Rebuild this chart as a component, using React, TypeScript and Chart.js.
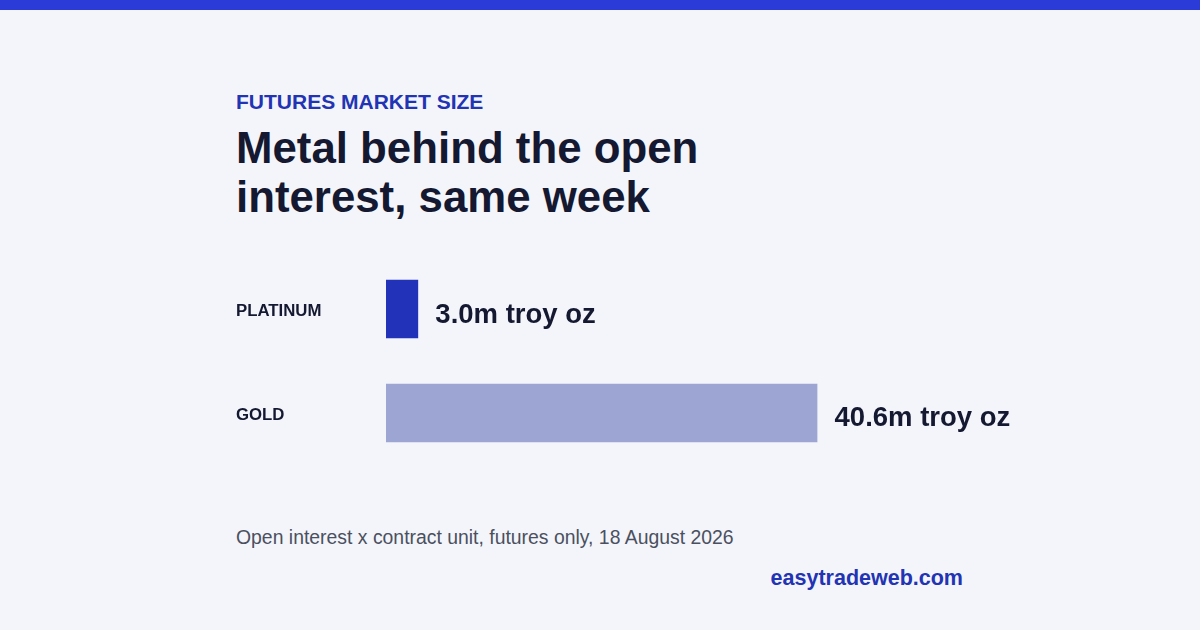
import React, { useRef, useEffect } from "react";
import { Chart, registerables } from "chart.js";

Chart.register(...registerables);

const metals = ["PLATINUM", "GOLD"];
const ounces = [3.0, 40.6]; // million troy oz
const unit = "m troy oz";
const barColors = ["#2233b9", "#9da6d3"];

const FONT = "'Liberation Sans', Arial, Helvetica, sans-serif";
const INK = "#141830";

// draws "3.0m troy oz" style labels just past the end of each bar
const valueLabels = {
  id: "valueLabels",
  afterDatasetsDraw(chart: any) {
    const ctx = chart.ctx;
    const meta = chart.getDatasetMeta(0);
    ctx.save();
    ctx.font = `bold 27.5px ${FONT}`;
    ctx.fillStyle = INK;
    ctx.textAlign = "left";
    ctx.textBaseline = "alphabetic";
    meta.data.forEach((bar: any, i: number) => {
      ctx.fillText(ounces[i].toFixed(1) + unit, bar.x + 17.5, bar.y + 13.5);
    });
    ctx.restore();
  },
};

const BarChart = () => {
  const chartRef = useRef<any>(null);
  const chartInstanceRef = useRef<any>(null);

  useEffect(() => {
    const ctx = chartRef.current.getContext("2d");
    if (chartInstanceRef.current) {
      chartInstanceRef.current.destroy();
    }

    Chart.defaults.font.family = FONT;

    chartInstanceRef.current = new Chart(ctx, {
      type: "bar",
      data: {
        labels: metals,
        datasets: [
          {
            data: ounces,
            backgroundColor: barColors,
            borderWidth: 0,
            barThickness: 58,
          },
        ],
      },
      options: {
        indexAxis: "y",
        animation: false,
        responsive: true,
        maintainAspectRatio: false,
        layout: { padding: 0 },
        plugins: {
          legend: { display: false },
          tooltip: { enabled: false },
        },
        scales: {
          x: {
            display: false,
            min: 0,
            max: 60,
          },
          y: {
            grid: { display: false },
            border: { display: false },
            afterFit: (scale: any) => {
              scale.width = 150;
            },
            ticks: {
              crossAlign: "far",
              padding: 0,
              labelOffset: 2,
              color: INK,
              font: { size: 16.8, weight: "bold" },
            },
          },
        },
      },
      plugins: [valueLabels],
    });

    return () => {
      if (chartInstanceRef.current) {
        chartInstanceRef.current.destroy();
      }
    };
  }, []);

  return <canvas ref={chartRef} />;
};

const App = () => {
  return (
    <div
      style={{
        position: "absolute",
        left: 0,
        top: 0,
        width: 1200,
        height: 630,
        overflow: "hidden",
        background: "#f3f5fa",
        fontFamily: FONT,
      }}
    >
      <div
        style={{
          position: "absolute",
          left: 0,
          top: 0,
          width: 1200,
          height: 10,
          background: "#2a3bd8",
        }}
      />
      <div
        style={{
          position: "absolute",
          left: 236,
          top: 90.5,
          fontSize: 21,
          lineHeight: "21px",
          fontWeight: "bold",
          color: "#2233b4",
          whiteSpace: "nowrap",
        }}
      >
        FUTURES MARKET SIZE
      </div>
      <div
        style={{
          position: "absolute",
          left: 236,
          top: 122.8,
          fontSize: 43.8,
          lineHeight: "49px",
          fontWeight: "bold",
          color: INK,
          whiteSpace: "nowrap",
        }}
      >
        Metal behind the open
        <br />
        interest, same week
      </div>
      <div
        style={{
          position: "absolute",
          left: 236,
          top: 247,
          width: 787,
          height: 228,
        }}
      >
        <BarChart />
      </div>
      <div
        style={{
          position: "absolute",
          left: 236,
          top: 527.5,
          fontSize: 19.4,
          lineHeight: "19.4px",
          color: "#4b5060",
          whiteSpace: "nowrap",
        }}
      >
        Open interest x contract unit, futures only, 18 August 2026
      </div>
      <div
        style={{
          position: "absolute",
          right: 237,
          top: 568,
          fontSize: 21.5,
          lineHeight: "21.5px",
          fontWeight: "bold",
          color: "#2233b4",
          whiteSpace: "nowrap",
        }}
      >
        easytradeweb.com
      </div>
    </div>
  );
};

export default App;
